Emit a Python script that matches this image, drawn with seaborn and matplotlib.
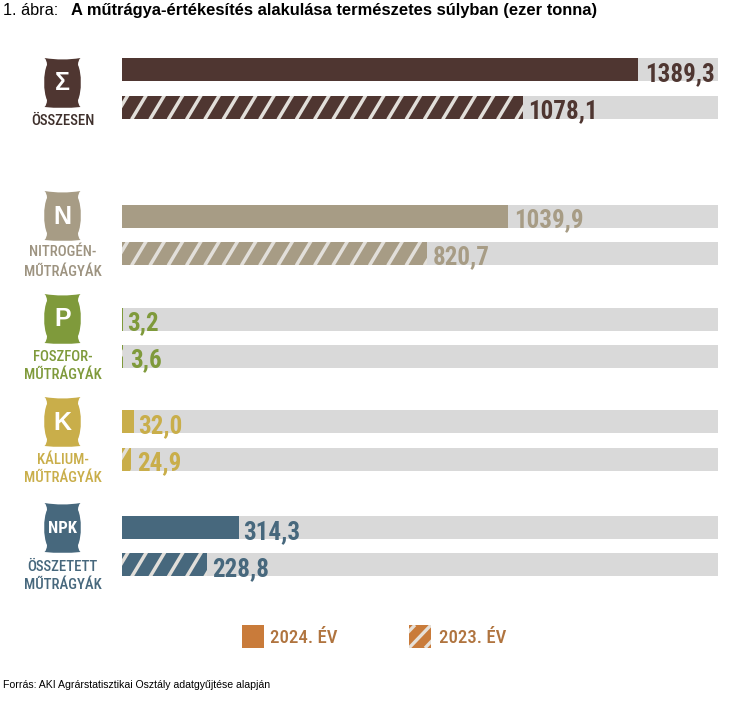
import numpy as np
import pandas as pd
import matplotlib
matplotlib.use("Agg")
import matplotlib.pyplot as plt
import matplotlib.font_manager as fm
from matplotlib.path import Path
from matplotlib.patches import PathPatch, Rectangle
import seaborn as sns

# ---------- data ----------
row_names = ["Összesen 2024", "Összesen 2023", "Nitrogén 2024", "Nitrogén 2023",
             "Foszfor 2024", "Foszfor 2023", "Kálium 2024", "Kálium 2023",
             "NPK 2024", "NPK 2023"]
values = [1389.3, 1078.1, 1039.9, 820.7, 3.2, 3.6, 32.0, 24.9, 314.3, 228.8]
hatched = [False, True] * 5
track_value = 1604

groups = ["Σ", "N", "P", "K", "NPK"]
group_labels = [["ÖSSZESEN"], ["NITROGÉN-", "MŰTRÁGYÁK"], ["FOSZFOR-", "MŰTRÁGYÁK"],
                ["KÁLIUM-", "MŰTRÁGYÁK"], ["ÖSSZETETT", "MŰTRÁGYÁK"]]
legend_labels = ["2024. ÉV", "2023. ÉV"]
title_prefix = "1. ábra:"
title_text = "A műtrágya-értékesítés alakulása természetes súlyban (ezer tonna)"
source_text = "Forrás: AKI Agrárstatisztikai Osztály adatgyűjtése alapján"

# ---------- styles / layout ----------
group_colors = ["#4f3631", "#a79c85", "#7f9a3b", "#c9ae4a", "#47687d"]
label_colors = ["#3f302c", "#9d9380", "#7f9a3b", "#c9ae4a", "#47687d"]
row_colors = [c for c in group_colors for _ in range(2)]
text_colors = row_colors
row_y = [69.5, 107, 216, 253, 319, 356, 421.5, 459, 527.5, 564.5]
bar_h = 23
px_per_unit = 0.3716
x0_px = 122
label_off = [7, 6, 6, 6, 4, 7, 4, 6, 4, 5]
sack_tops = [58, 191, 294, 397, 503]
label_ys = [[121], [252, 272], [357, 375], [460, 478], [567, 585]]
W, H = 750, 706

names = {f.name for f in fm.fontManager.ttflist}
narrow = next((n for n in ["Liberation Sans Narrow", "Roboto Condensed", "Open Sans Condensed"]
               if n in names), "DejaVu Sans")
is_narrow = narrow != "DejaVu Sans"
nstretch = "normal" if is_narrow else "condensed"
arial = "Liberation Sans"

sns.set_theme(style="white")
fig = plt.figure(figsize=(W / 100, H / 100), dpi=100, facecolor="white")
ax = fig.add_axes([0, 0, 1, 1])

track_df = pd.DataFrame({"row": row_names, "value": [track_value] * len(values), "y": row_y})
bar_df = pd.DataFrame({"row": row_names, "value": values, "y": row_y})
width = bar_h / np.min(np.diff(row_y))
sns.barplot(data=track_df, x="value", y="y", orient="h", native_scale=True, color="#d9d9d9",
            width=width, linewidth=0, errorbar=None, saturation=1, ax=ax)
sns.barplot(data=bar_df, x="value", y="y", hue="row", hue_order=row_names,
            palette=dict(zip(row_names, row_colors)), dodge=False, orient="h", saturation=1,
            native_scale=True, width=width, linewidth=0, errorbar=None, legend=False, ax=ax)
ax.set_xlim(-x0_px / px_per_unit, (W - x0_px) / px_per_unit)
ax.set_ylim(H, 0)
ax.axis("off")

ov = fig.add_axes([0, 0, 1, 1], facecolor="none")
ov.set_xlim(0, W)
ov.set_ylim(H, 0)
ov.axis("off")

# stripes on the 2023 bars
for flag, y, cont in zip(hatched, row_y, ax.containers[-len(row_names):]):
    if not flag:
        continue
    patch = cont.patches[0]
    for sx in np.arange(95, W, 18.3):
        ln, = ov.plot([sx, sx + 15], [y + bar_h / 2 + 1, y - bar_h / 2 - 1], color="#e2dfda",
                      lw=2.5, solid_capstyle="butt", zorder=3)
        ln.set_clip_path(patch)

# value labels
for v, y, col, off in zip(values, row_y, text_colors, label_off):
    ax.annotate(f"{v:.1f}".replace(".", ","), (v, y), xytext=(off * 0.72, -1.4),
                textcoords="offset points", ha="left", va="center_baseline",
                fontsize=18, fontweight="bold", color=col, family=narrow,
                fontstretch=nstretch, zorder=6)


def sack(cx, top, color, h=49, hw=18, n=15.5, c=19.3):
    b = top + h
    verts = [(cx - hw, top), (cx, top + 3), (cx + hw, top),
             (cx + n, top + 2), (cx + n, top + 7),
             (cx + c, top + 15), (cx + c, b - 15), (cx + n, b - 7),
             (cx + n, b - 2), (cx + hw, b),
             (cx, b + 2), (cx - hw, b),
             (cx - n, b - 2), (cx - n, b - 7),
             (cx - c, b - 15), (cx - c, top + 15), (cx - n, top + 7),
             (cx - n, top + 2), (cx - hw, top),
             (cx - hw, top)]
    codes = [Path.MOVETO] + [Path.CURVE3] * 2 + [Path.CURVE3] * 2 + [Path.CURVE4] * 3 + \
            [Path.CURVE3] * 2 + [Path.CURVE3] * 2 + [Path.CURVE3] * 2 + [Path.CURVE4] * 3 + \
            [Path.CURVE3] * 2 + [Path.CLOSEPOLY]
    ov.add_patch(PathPatch(Path(verts, codes), facecolor=color, edgecolor="none", zorder=4))


for g, top, col, lcol, lines, ys in zip(groups, sack_tops, group_colors, label_colors,
                                        group_labels, label_ys):
    sack(62.5, top, col)
    fs = 12 if g == "NPK" else 18
    ov.text(62.5, top + 25.5, g, ha="center", va="center", color="white", fontweight="bold",
            fontsize=fs, family=narrow if g == "NPK" else arial, zorder=5)
    for t, ty in zip(lines, ys):
        ov.text(62.5, ty, t, ha="center", va="center", color=lcol, fontsize=10.6,
                family=narrow, fontstretch=nstretch, fontweight="medium", zorder=5)

# legend
orange = "#c97b3a"
ov.add_patch(Rectangle((242, 625), 22, 23, facecolor=orange, edgecolor="none"))
sq = Rectangle((409, 625), 22, 23, facecolor=orange, edgecolor="none")
ov.add_patch(sq)
for d in [-16, 0, 16]:
    ln, = ov.plot([409 + d, 431 + d], [648, 625], color="#e6e0d8", lw=2.4, solid_capstyle="butt")
    ln.set_clip_path(sq)
for x, t in zip([270, 439], legend_labels):
    ov.text(x, 638, t, ha="left", va="center", color="#b0743f", fontsize=13.5,
            fontweight="medium", family=narrow, fontstretch=nstretch)

# title & source
ov.text(3, 10.5, title_prefix, ha="left", va="center", fontsize=11.7, color="black", family=arial)
ov.text(71, 10.5, title_text, ha="left", va="center", fontsize=11.85, fontweight="bold",
        color="black", family=arial)
ov.text(3, 685, source_text, ha="left", va="center", fontsize=7.6, color="black", family=arial)

fig.savefig("out.png", dpi=100, facecolor="white")
